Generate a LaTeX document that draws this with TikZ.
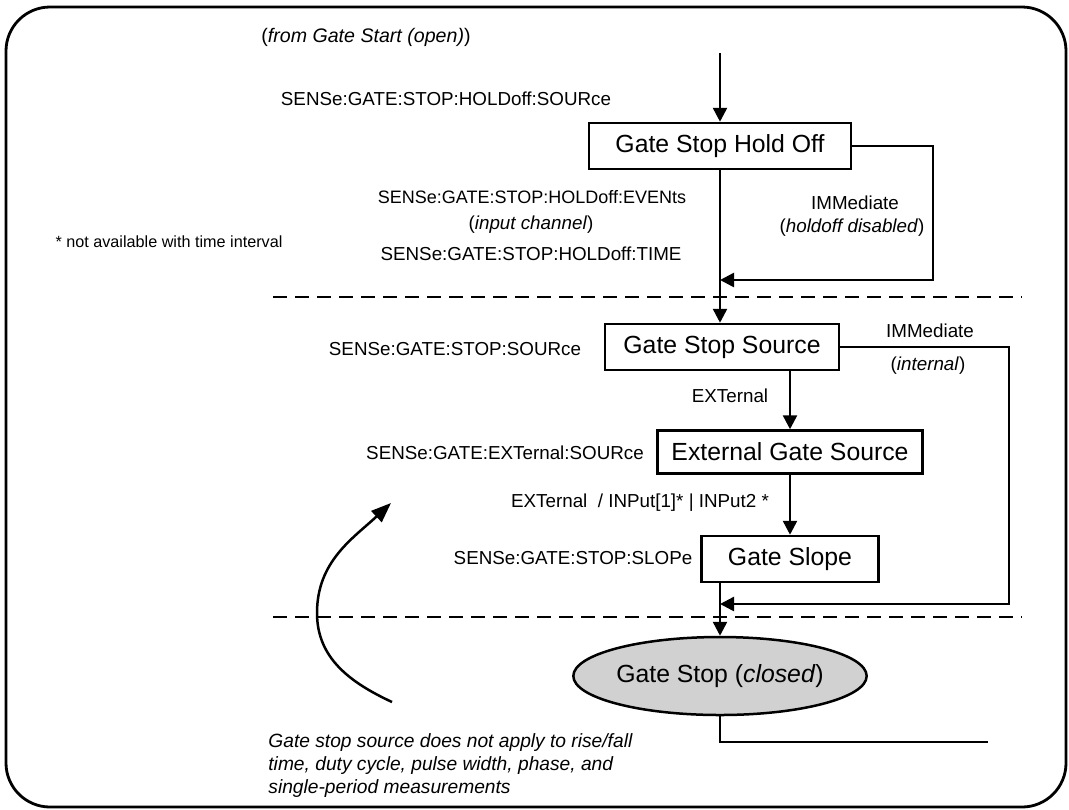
\documentclass[tikz,border=0pt]{standalone}
\usepackage{fontspec}
\setmainfont{Liberation Sans}
\usetikzlibrary{arrows.meta,shapes.geometric}

\begin{document}
\begin{tikzpicture}[
  x=0.5pt, y=0.5pt,
  box/.style={draw, line width=1.25pt, inner sep=0pt, minimum height=23pt, font=\fontsize{12.4}{15}\selectfont},
  state/.style={ellipse, draw, line width=1.25pt, fill=black!18, inner sep=0pt, minimum width=133pt, minimum height=39pt, font=\fontsize{12.4}{15}\selectfont},
  lbl/.style={font=\fontsize{9.4}{11}\selectfont, inner sep=0pt},
  flow/.style={line width=1.25pt, -{Triangle[length=7pt,width=7pt]}},
  link/.style={line width=1.25pt},
  divider/.style={line width=1.1pt, dash pattern=on 7pt off 4pt}
]
\useasboundingbox (0,0) rectangle (1069,-809);
\draw[line width=1.4pt, rounded corners=22pt] (6,-7) rectangle (1066,-807);

% Hold off stage
\coordinate (in) at (720,-53);
\node[lbl, font=\fontsize{9.8}{11}\selectfont] (from) at (366,-37) {(\textit{from Gate Start (open)})};
\node[box, minimum width=131pt] (hold) at (720,-146) {Gate Stop Hold Off};
\node[lbl] (holdsrc) at (446,-99) {SENSe:GATE:STOP:HOLDoff:SOURce};
\node[lbl, font=\fontsize{9}{11}\selectfont] (events) at (532,-197) {SENSe:GATE:STOP:HOLDoff:EVENts};
\node[lbl] (chan) at (531,-225) {(\textit{input channel})};
\node[lbl] (time) at (531,-254) {SENSe:GATE:STOP:HOLDoff:TIME};
\node[lbl, font=\fontsize{8.1}{10}\selectfont] (star) at (169,-242) {* not available with time interval};
\node[lbl] (imm1) at (855,-203) {IMMediate};
\node[lbl] (dis) at (852,-228) {(\textit{holdoff disabled})};
\coordinate (r1) at (933,-280);
\coordinate (j1) at (720,-280);
\draw[flow] (in) -- (hold.north);
\draw[flow] (hold.east) -| (r1) -- (j1);
\draw[divider] (273,-297) -- (1022,-297);

% Source stage
\node[box, minimum width=117pt] (src) at (722,-347) {Gate Stop Source};
\node[box, minimum width=132.5pt, minimum height=21.5pt] (ext) at (790,-452) {External Gate Source};
\node[box, minimum width=88.5pt] (slope) at (790,-559) {Gate Slope};
\node[lbl] (stopsrc) at (455,-349) {SENSe:GATE:STOP:SOURce};
\node[lbl] (imm2) at (930,-331) {IMMediate};
\node[lbl] (intl) at (928,-366) {(\textit{internal})};
\node[lbl] (extl) at (730,-396) {EXTernal};
\node[lbl] (extsrc) at (505,-453) {SENSe:GATE:EXTernal:SOURce};
\node[lbl] (inputs) at (640,-503) {EXTernal~~/ INPut[1]* | INPut2 *};
\node[lbl] (slopel) at (573,-558) {SENSe:GATE:STOP:SLOPe};
\coordinate (r2) at (1009,-604);
\coordinate (j2) at (720,-604);
\draw[flow] (hold.south) -- (hold.south |- src.north);
\draw[flow] (src.south -| ext.north) -- (ext.north);
\draw[flow] (ext.south) -- (slope.north);
\draw[flow] (src.east) -| (r2) -- (j2);
\draw[divider] (273,-617) -- (1022,-617);

% Gate stop
\node[state] (stop) at (720,-676) {Gate Stop (\textit{closed})};
\coordinate (out) at (988,-742);
\draw[flow] (slope.south -| stop.north) -- (stop.north);
\draw[link] (stop.south) |- (out);

% Note
\coordinate (c0) at (392,-702);
\coordinate (c1) at (317,-613);
\coordinate (c2) at (391,-503);
\draw[line width=1.25pt, -{Triangle[length=10pt,width=7.5pt]}] (c0) to[out=155, in=-90] (c1) to[out=90, in=-137] (c2);
\node[lbl, font=\fontsize{9.6}{11.5}\itshape, anchor=north west, align=left] (note) at (268,-733)
  {Gate stop source does not apply to rise/fall\\time, duty cycle, pulse width, phase, and\\single-period measurements};
\end{tikzpicture}
\end{document}
